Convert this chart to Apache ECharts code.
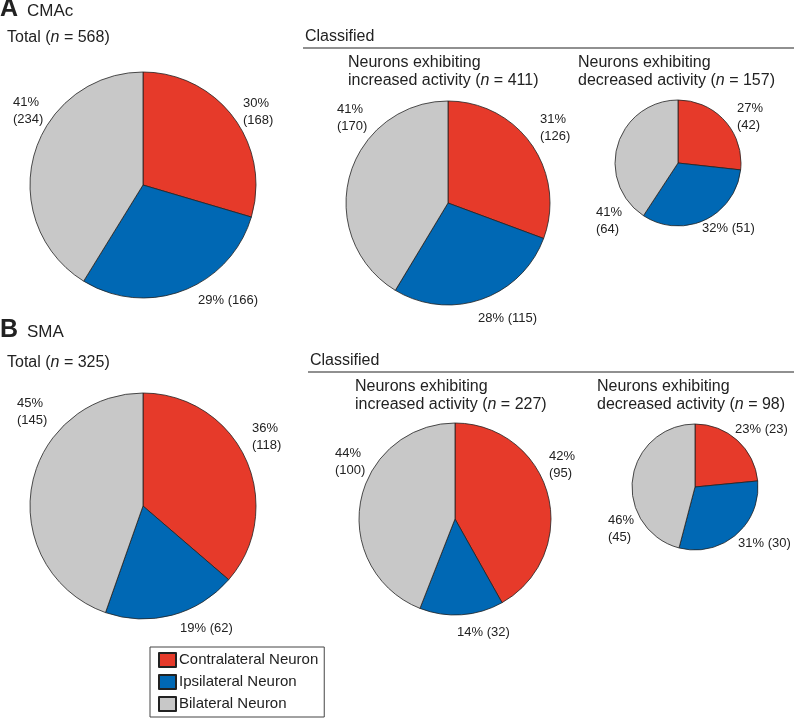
<!DOCTYPE html>
<html>
<head>
<meta charset="utf-8">
<script src="https://cdn.jsdelivr.net/npm/echarts@6/dist/echarts.min.js"></script>
<style>
  html, body { margin: 0; padding: 0; background: #fff; }
  #chart { width: 794px; height: 720px; }
</style>
</head>
<body>
<div id="chart"></div>
<script>
const categories = ['Contralateral Neuron', 'Ipsilateral Neuron', 'Bilateral Neuron'];
const cmacTotal = [168, 166, 234];
const cmacIncreased = [126, 115, 170];
const cmacDecreased = [42, 51, 64];
const smaTotal = [118, 62, 145];
const smaIncreased = [95, 32, 100];
const smaDecreased = [23, 30, 45];

const colors = ['#e63a2a', '#0068b4', '#c8c8c8'];
const font = "'Liberation Sans', Arial, sans-serif";
const textColor = '#222';

// pie placement; label offsets are from the pie centre, [dx, dy, twoLines]
const pies = [
  { name: 'CMAc total', values: cmacTotal, center: [143, 185], r: 113,
    labels: [[100, -73, true], [55, 115, false], [-130, -74, true]] },
  { name: 'CMAc increased', values: cmacIncreased, center: [448, 203], r: 102,
    labels: [[92, -75, true], [30, 115, false], [-111, -85, true]] },
  { name: 'CMAc decreased', values: cmacDecreased, center: [678, 163], r: 63,
    labels: [[59, -46, true], [24, 65, false], [-82, 58, true]] },
  { name: 'SMA total', values: smaTotal, center: [143, 506], r: 113,
    labels: [[109, -69, true], [37, 122, false], [-126, -94, true]] },
  { name: 'SMA increased', values: smaIncreased, center: [455, 519], r: 96,
    labels: [[94, -54, true], [2, 113, false], [-120, -57, true]] },
  { name: 'SMA decreased', values: smaDecreased, center: [695, 487], r: 63,
    labels: [[40, -58, false], [43, 56, false], [-87, 42, true]] }
];

const rich = {
  i: { fontStyle: 'italic', fontSize: 16, fontFamily: font, color: textColor }
};

function titleText(text, left, top, size, weight) {
  return {
    text: text,
    left: left,
    top: top,
    padding: 0,
    itemGap: 0,
    textStyle: {
      fontSize: size || 16,
      fontWeight: weight || 'normal',
      fontFamily: font,
      color: textColor,
      lineHeight: 18,
      rich: rich
    }
  };
}

const titles = [
  titleText('A', 0, 0, 25, 'bold'),
  titleText('CMAc', 27, 2, 17),
  titleText('Total ({i|n} = 568)', 7, 29),
  titleText('Classified', 305, 28),
  titleText('Neurons exhibiting\nincreased activity ({i|n} = 411)', 348, 54),
  titleText('Neurons exhibiting\ndecreased activity ({i|n} = 157)', 578, 54),
  titleText('B', 0, 321, 25, 'bold'),
  titleText('SMA', 27, 323, 17),
  titleText('Total ({i|n} = 325)', 7, 354),
  titleText('Classified', 310, 352),
  titleText('Neurons exhibiting\nincreased activity ({i|n} = 227)', 355, 378),
  titleText('Neurons exhibiting\ndecreased activity ({i|n} = 98)', 597, 378)
];

const series = pies.map(function (pie) {
  const total = pie.values.reduce(function (a, b) { return a + b; }, 0);
  return {
    name: pie.name,
    type: 'pie',
    center: pie.center,
    radius: pie.r,
    startAngle: 90,
    clockwise: true,
    avoidLabelOverlap: false,
    silent: true,
    animation: false,
    itemStyle: { borderColor: '#222', borderWidth: 0.8 },
    label: {
      show: true,
      position: 'outside',
      fontSize: 13,
      lineHeight: 17,
      fontFamily: font,
      color: textColor,
      formatter: function (p) {
        const pct = Math.round(p.value / total * 100) + '%';
        const lab = pie.labels[p.dataIndex];
        return pct + (lab[2] ? '\n' : ' ') + '(' + p.value + ')';
      }
    },
    labelLine: { show: false },
    labelLayout: function (p) {
      const lab = pie.labels[p.dataIndex];
      return {
        x: pie.center[0] + lab[0],
        y: pie.center[1] + lab[1],
        align: 'left',
        verticalAlign: 'middle'
      };
    },
    data: pie.values.map(function (v, i) {
      return { name: categories[i], value: v, itemStyle: { color: colors[i] } };
    })
  };
});

const chart = echarts.init(document.getElementById('chart'), null, { renderer: 'canvas' });
chart.setOption({
  backgroundColor: '#fff',
  animation: false,
  title: titles,
  legend: {
    data: categories,
    orient: 'vertical',
    left: 150,
    top: 647,
    itemWidth: 17,
    itemHeight: 14,
    itemGap: 6,
    padding: [5, 6, 5, 8],
    borderColor: '#444',
    borderWidth: 1,
    selectedMode: false,
    icon: 'rect',
    textStyle: { fontSize: 15, lineHeight: 16, fontFamily: font, color: textColor, padding: [0, 0, 0, -2] }
  },
  graphic: [
    { type: 'line', shape: { x1: 303, y1: 48, x2: 794, y2: 48 }, style: { stroke: '#222', lineWidth: 1.2 } },
    { type: 'line', shape: { x1: 308, y1: 372, x2: 794, y2: 372 }, style: { stroke: '#222', lineWidth: 1.2 } }
  ],
  series: series
});
</script>
</body>
</html>
